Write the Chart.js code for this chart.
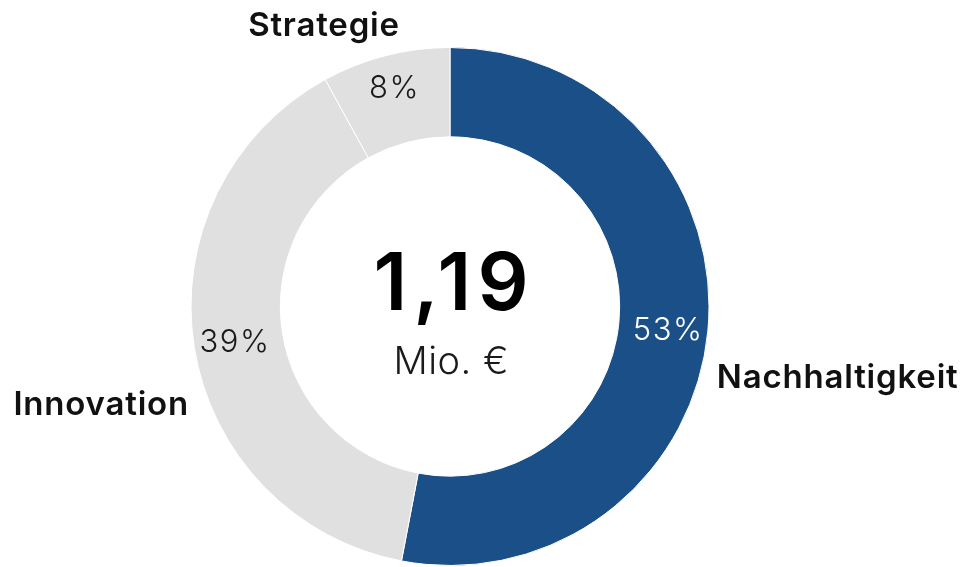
<!DOCTYPE html>
<html>
<head>
<meta charset="utf-8">
<script src="https://cdn.jsdelivr.net/npm/chart.js@4.4.0/dist/chart.umd.min.js"></script>
<style>
    html, body { margin: 0; padding: 0; background: #ffffff; }
    #wrap { width: 963px; height: 567px; position: relative; }
</style>
</head>
<body>
<div id="wrap"><canvas id="grafico-anteile"></canvas></div>
<script>
const kategorien = ['Nachhaltigkeit', 'Innovation', 'Strategie'];
const anteile = [53, 39, 8];
const farben = ['#1B4F88', '#E0E0E0', '#E0E0E0'];
const prozentFarben = ['#ffffff', '#1a1a1a', '#1a1a1a'];
const summeWert = '1,19';
const summeEinheit = 'Mio. €';

const schrift = 'Inter, "Noto Sans", sans-serif';

// Versatz der Kategorienamen relativ zum äußeren Bogenmittelpunkt
const labelVersatz = [
    { dx: 9, dy: 47, align: 'left' },
    { dx: -6, dy: 58, align: 'right' },
    { dx: -62, dy: -30, align: 'center' }
];

// kleine Korrektur der Prozentwerte im Ring
const prozentVersatz = [
    { dx: 4, dy: 4 },
    { dx: -4, dy: 3 },
    { dx: -3, dy: -10 }
];

function textMitAbstand(ctx, text, x, y, abstand, align) {
    ctx.letterSpacing = abstand + 'px';
    const breite = ctx.measureText(text).width - abstand;
    let start = x;
    if (align === 'center') start = x - breite / 2;
    if (align === 'right') start = x - breite;
    ctx.textAlign = 'left';
    ctx.fillText(text, start, y);
    ctx.letterSpacing = '0px';
}

const beschriftungPlugin = {
    id: 'beschriftung',
    afterDatasetsDraw(chart) {
        const ctx = chart.ctx;
        const meta = chart.getDatasetMeta(0);
        ctx.save();
        ctx.textBaseline = 'middle';

        meta.data.forEach((arc, i) => {
            const p = arc.getProps(['x', 'y', 'startAngle', 'endAngle', 'innerRadius', 'outerRadius'], true);
            const mitte = (p.startAngle + p.endAngle) / 2;
            const rMitte = (p.innerRadius + p.outerRadius) / 2;

            // Prozentwert im Ring
            const pv = prozentVersatz[i];
            ctx.fillStyle = prozentFarben[i];
            ctx.font = '300 31px ' + schrift;
            textMitAbstand(ctx, anteile[i] + '%',
                p.x + Math.cos(mitte) * rMitte + pv.dx,
                p.y + Math.sin(mitte) * rMitte + pv.dy, 1.5, 'center');

            // Kategoriename außen
            const v = labelVersatz[i];
            ctx.fillStyle = '#111111';
            ctx.font = '600 33px ' + schrift;
            textMitAbstand(ctx, kategorien[i],
                p.x + Math.cos(mitte) * p.outerRadius + v.dx,
                p.y + Math.sin(mitte) * p.outerRadius + v.dy, 0.8, v.align);
        });

        // Summe in der Mitte
        const a = meta.data[0];
        ctx.fillStyle = '#000000';
        ctx.font = '600 80px ' + schrift;
        textMitAbstand(ctx, summeWert, a.x + 1, a.y - 21, 6, 'center');
        ctx.fillStyle = '#1a1a1a';
        ctx.font = '300 38px ' + schrift;
        textMitAbstand(ctx, summeEinheit, a.x + 1, a.y + 56, 0.5, 'center');

        ctx.restore();
    }
};

new Chart(document.getElementById('grafico-anteile'), {
    type: 'doughnut',
    data: {
        labels: kategorien,
        datasets: [{
            data: anteile,
            backgroundColor: farben,
            borderColor: '#ffffff',
            borderWidth: 1,
            hoverOffset: 0
        }]
    },
    options: {
        responsive: true,
        maintainAspectRatio: false,
        animation: false,
        cutout: '65.5%',
        layout: {
            padding: { top: 47, bottom: 1, left: 0, right: 63 }
        },
        plugins: {
            legend: { display: false },
            tooltip: { enabled: false }
        }
    },
    plugins: [beschriftungPlugin]
});
</script>
</body>
</html>
